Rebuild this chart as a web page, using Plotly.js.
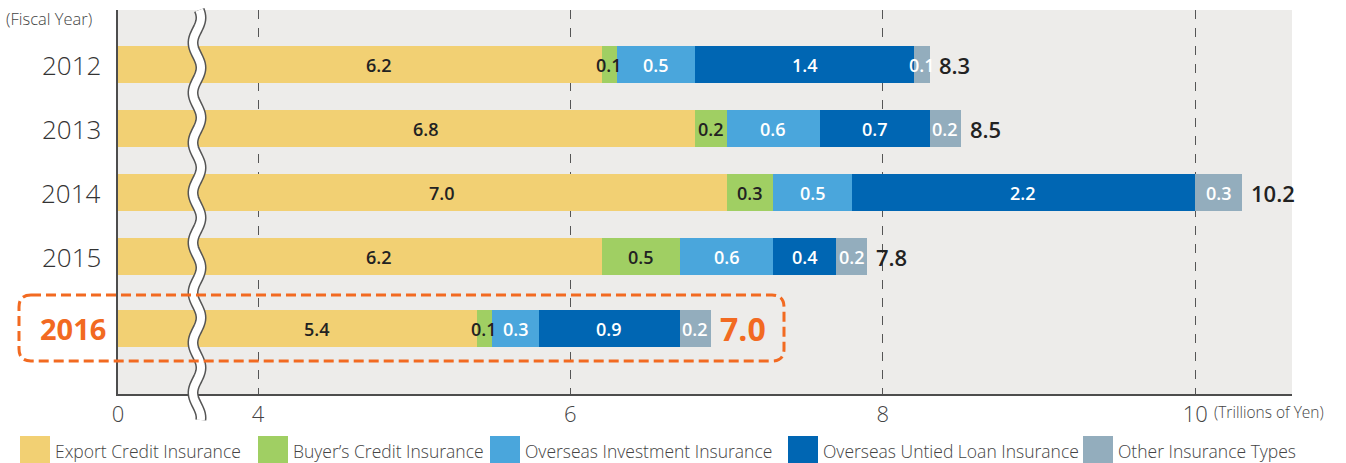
<!DOCTYPE html>
<html>
<head>
<meta charset="utf-8">
<script src="https://cdn.plot.ly/plotly-3.0.1.min.js"></script>
<style>html,body{margin:0;padding:0;background:#fff}#chart{width:1346px;height:463px}</style>
</head>
<body>
<div id="chart"></div>
<script>
// ---- data ----
const years = [2012, 2013, 2014, 2015, 2016];
const exportCredit   = [6.2, 6.8, 7.0, 6.2, 5.4];
const buyersCredit   = [0.1, 0.2, 0.3, 0.5, 0.1];
const overseasInvest = [0.5, 0.6, 0.5, 0.6, 0.3];
const untiedLoan     = [1.4, 0.7, 2.2, 0.4, 0.9];
const otherTypes     = [0.1, 0.2, 0.3, 0.2, 0.2];
const totals         = [8.3, 8.5, 10.2, 7.8, 7.0];
const seriesNames = ["Export Credit Insurance", "Buyer\u2019s Credit Insurance", "Overseas Investment Insurance", "Overseas Untied Loan Insurance", "Other Insurance Types"];
const xTickVals = [4, 6, 8, 10];
const highlightYear = 2016;

// ---- style ----
const colors = ["#f2d073", "#a0cf63", "#4aa6dc", "#0066b3", "#93adbd"];
const labelColors = ["#222222", "#222222", "#ffffff", "#ffffff", "#ffffff"];
const FONT = "Open Sans, Noto Sans, sans-serif";
const ORANGE = "#f26a21";
const W = 1346, H = 463;
const M = {l: 118, r: 54, t: 10, b: 69};
const PW = W - M.l - M.r, PH = H - M.t - M.b;
const px = p => (p - M.l) / PW;          // pixel -> paper x
const py = p => (H - M.b - p) / PH;      // pixel -> paper y
const breakPx = 197;
const d1 = px(breakPx);
const unit = 156.2;                      // pixels per trillion yen on main scale
const x2range = [4 - (258 - breakPx) / unit, 4 + (W - M.r - 258) / unit];

// row positions (extra gap before the highlighted year)
const rowPos = years.map((y, i) => i + (y === highlightYear ? 0.125 : 0));
const rowPx = 64;
const barW = 0.58;

const allSeries = [exportCredit, buyersCredit, overseasInvest, untiedLoan, otherTypes];
const traces = [];
// first (compressed) segment: export credit bars from 0
traces.push({
  type: "bar", orientation: "h", x: exportCredit, y: rowPos, width: barW,
  xaxis: "x", yaxis: "y", marker: {color: colors[0]}, hoverinfo: "skip", showlegend: false
});
allSeries.forEach((vals, i) => {
  traces.push({
    type: "bar", orientation: "h", x: vals, y: rowPos, width: barW,
    xaxis: "x2", yaxis: "y", name: seriesNames[i],
    marker: {color: colors[i], line: {width: 0}},
    hoverinfo: "skip", showlegend: false
  });
});

const annotations = [];
// export credit labels (inside visible part of bar)
const lo = 3.35;
exportCredit.forEach((v, i) => {
  annotations.push({xref: "x2", yref: "y", x: (lo + v) / 2, y: rowPos[i], text: v.toFixed(1),
    showarrow: false, font: {family: FONT, size: 18, color: "#222", weight: 600}});
});
// other segment labels, centred on each segment
allSeries.forEach((vals, s) => {
  if (s === 0) return;
  vals.forEach((v, i) => {
    let start = 0;
    for (let k = 0; k < s; k++) start += allSeries[k][i];
    annotations.push({xref: "x2", yref: "y", x: start + v / 2, y: rowPos[i], text: v.toFixed(1),
      showarrow: false, font: {family: FONT, size: 18, color: labelColors[s], weight: 600}});
  });
});
// totals
totals.forEach((t, i) => {
  const end = allSeries.reduce((s, arr) => s + arr[i], 0);
  const hl = years[i] === highlightYear;
  annotations.push({xref: "x2", yref: "y", x: end, y: rowPos[i], xanchor: "left", xshift: 7,
    text: t.toFixed(1), showarrow: false,
    font: {family: FONT, size: hl ? 32 : 22, color: hl ? ORANGE : "#222", weight: hl ? 700 : 600}});
});
// year labels
years.forEach((y, i) => {
  const hl = y === highlightYear;
  annotations.push({xref: "paper", yref: "y", x: 0, y: rowPos[i], xanchor: "right", xshift: hl ? -10 : -15,
    text: String(y), showarrow: false,
    font: {family: FONT, size: hl ? 29 : 26, color: hl ? ORANGE : "#333", weight: hl ? 700 : 300}});
});
annotations.push({xref: "paper", yref: "paper", x: px(4), y: py(18), xanchor: "left", yanchor: "middle",
  text: "(Fiscal Year)", showarrow: false, font: {family: FONT, size: 16.5, color: "#444", weight: 300}});
annotations.push({xref: "paper", yref: "paper", x: px(1212), y: py(412), xanchor: "left", yanchor: "middle",
  text: "(Trillions of Yen)", showarrow: false, font: {family: FONT, size: 15.5, color: "#444", weight: 300}});

// legend (custom, large swatches)
const legendX = [20, 258, 490, 788, 1083];
const shapes = [];
seriesNames.forEach((n, i) => {
  shapes.push({type: "rect", xref: "paper", yref: "paper", x0: px(legendX[i]), x1: px(legendX[i] + 30),
    y0: py(463), y1: py(436), fillcolor: colors[i], line: {width: 0}, layer: "above"});
  annotations.push({xref: "paper", yref: "paper", x: px(legendX[i] + 33), y: py(451), xanchor: "left", yanchor: "middle",
    text: n, showarrow: false, font: {family: FONT, size: 17.5, color: "#444", weight: 300}});
});

// axis break squiggle
let pts = [];
for (let yy = 10; yy <= 420; yy += 2) {
  const xx = breakPx + 4 * Math.sin(2 * Math.PI * (yy - 10) / 50 + 0.6);
  pts.push(px(xx).toFixed(5) + "," + py(yy).toFixed(5));
}
const wave = "M" + pts.join(" L");
shapes.push({type: "path", xref: "paper", yref: "paper", path: wave, line: {color: "#555", width: 11}, layer: "above"});
shapes.push({type: "path", xref: "paper", yref: "paper", path: wave, line: {color: "#ffffff", width: 8}, layer: "above"});

// highlight box (rounded, dashed)
function roundRect(x0, y0, x1, y1, r) {
  const P = (a, b) => px(a).toFixed(5) + "," + py(b).toFixed(5);
  return "M" + P(x0 + r, y0) + " L" + P(x1 - r, y0) + " Q" + P(x1, y0) + " " + P(x1, y0 + r) +
    " L" + P(x1, y1 - r) + " Q" + P(x1, y1) + " " + P(x1 - r, y1) +
    " L" + P(x0 + r, y1) + " Q" + P(x0, y1) + " " + P(x0, y1 - r) +
    " L" + P(x0, y0 + r) + " Q" + P(x0, y0) + " " + P(x0 + r, y0) + " Z";
}
shapes.push({type: "path", xref: "paper", yref: "paper", path: roundRect(19, 295, 784, 361, 12),
  line: {color: ORANGE, width: 3, dash: "10px,5px"}, layer: "above"});

const firstRowOffset = 54.5; // px from plot top to first row centre
const tickFont = {family: FONT, size: 22, color: "#444", weight: 300};
const layout = {
  width: W, height: H, margin: M,
  paper_bgcolor: "#ffffff", plot_bgcolor: "#edecea",
  barmode: "stack", bargap: 0, showlegend: false,
  font: {family: FONT, color: "#333"},
  xaxis: {domain: [0, d1], range: [0, 1], tickvals: [0], ticktext: ["0"], showgrid: false, zeroline: false,
    showline: true, linecolor: "#4d4d4d", linewidth: 2, ticks: "", fixedrange: true,
    tickfont: tickFont, anchor: "y"},
  xaxis2: {domain: [d1, 1], range: x2range, tickvals: xTickVals, ticktext: xTickVals.map(String),
    showgrid: true, gridcolor: "#555", griddash: "dash", gridwidth: 1, zeroline: false,
    showline: true, linecolor: "#4d4d4d", linewidth: 2, ticks: "", fixedrange: true,
    tickfont: tickFont, anchor: "y"},
  yaxis: {range: [(PH - firstRowOffset) / rowPx, -firstRowOffset / rowPx],
    showticklabels: false, ticks: "", showgrid: false, zeroline: false,
    showline: true, linecolor: "#4d4d4d", linewidth: 2, fixedrange: true, anchor: "x"},
  annotations: annotations, shapes: shapes
};

Plotly.newPlot("chart", traces, layout, {displayModeBar: false, staticPlot: true});
</script>
</body>
</html>
